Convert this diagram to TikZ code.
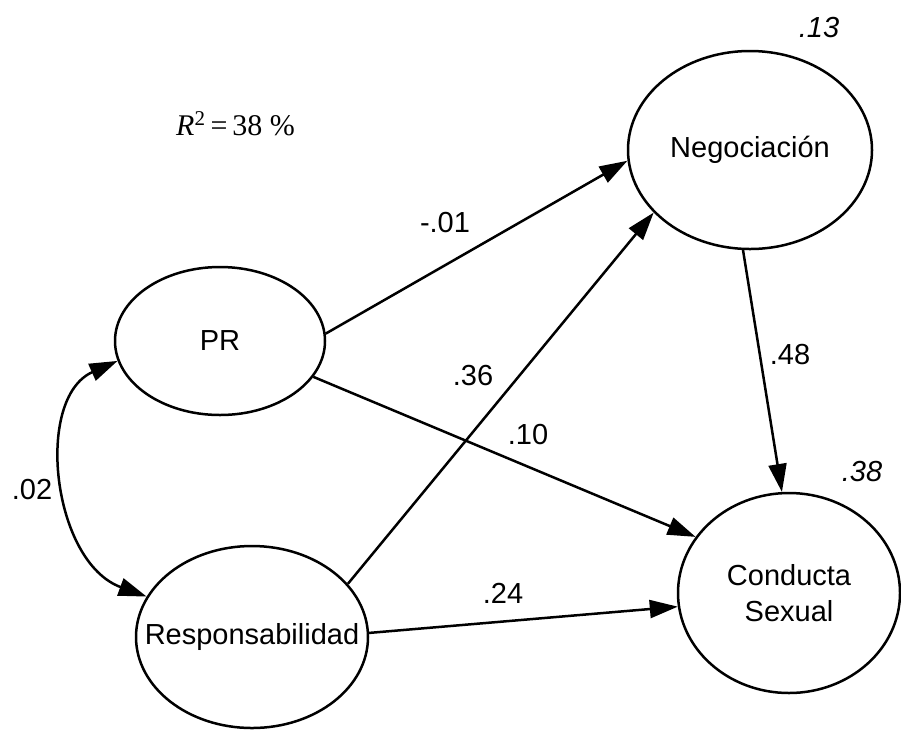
\documentclass[tikz,border=0pt]{standalone}
\usepackage{fontspec}
\setmainfont{Liberation Sans}
\newfontfamily\timesfont{Liberation Serif}
\usetikzlibrary{shapes.geometric,arrows.meta}
\begin{document}
\begin{tikzpicture}[x=1pt,y=-1pt,
  latent/.style={draw, ellipse, line width=2.5pt, inner sep=0pt, align=center,
                 font=\fontsize{29}{36}\selectfont},
  effect/.style={line width=2.5pt, -{Triangle[length=28pt,width=18pt]}},
  corr/.style={line width=2.5pt, {Triangle[length=28pt,width=18pt]}-{Triangle[length=28pt,width=18pt]}},
  coef/.style={inner sep=0pt, font=\fontsize{29}{34}\selectfont},
  rsq/.style={inner sep=0pt, font=\fontsize{29}{34}\selectfont\itshape}]
\useasboundingbox (0,0) rectangle (901,729);

% latent variables
\node[latent, minimum width=210pt, minimum height=148pt] (PR)   at (220,341) {PR};
\node[latent, minimum width=244pt, minimum height=198pt] (Neg)  at (750,150) {Negociación};
\node[latent, minimum width=222pt, minimum height=200pt] (Cond) at (789,593) {Conducta\\Sexual};
\node[latent, minimum width=232pt, minimum height=182pt] (Resp) at (252,637) {\makebox[0pt]{Responsabilidad}};

% structural paths
\draw[effect] (PR.4.4)   -- (Neg.185.2);
\draw[effect] (PR.-21.9) -- (Cond.149);
\draw[effect] (Resp.29.4) -- (Neg.213.1);
\draw[effect] (Resp.2.5) -- (Cond.187.2);
\draw[effect] (Neg.-94)  -- (Cond.94);

% covariance between the exogenous variables
\draw[corr] (PR.191.5) .. controls (34,398) and (52,562) .. (Resp.159.6);

% path coefficients
\node[coef] (cNeg)  at (445,223) {-.01};
\node[coef] (cResN) at (473,376) {.36};
\node[coef] (cPRC)  at (528,435) {.10};
\node[coef] (cNC)   at (790,355) {.48};
\node[coef] (cResC) at (503,593) {.24};
\node[coef] (cCov)  at (32,490)  {.02};

% explained variance
\node[rsq] (r2Neg)  at (819,28)  {.13};
\node[rsq] (r2Cond) at (862,472) {.38};
\node[inner sep=0pt, anchor=base west, font=\fontsize{30}{34}\selectfont\timesfont] (r2)
  at (176,135) {\textit{R}\textsuperscript{2}\,=\,38~\%};
\end{tikzpicture}
\end{document}
